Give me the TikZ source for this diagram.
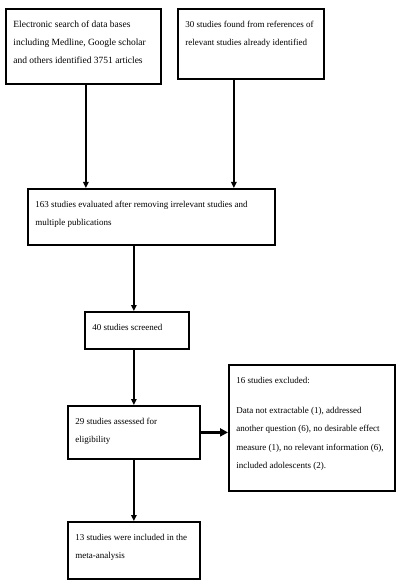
\documentclass[tikz,border=0pt]{standalone}
\usepackage{fontspec}
\setmainfont{Liberation Serif}
\usetikzlibrary{arrows.meta}
% box text: width, height, lines (top aligned)
\newcommand{\flowtext}[3]{\parbox[t][#2][t]{#1}{\raggedright\rule{0pt}{18.5pt}#3}}

\begin{document}
\begin{tikzpicture}[x=1pt, y=-1pt,
  flowbox/.style={draw, line width=1.8pt, anchor=north west, inner xsep=7.5pt, inner ysep=0pt,
    font=\fontsize{9}{18.3}\selectfont},
  flowarrow/.style={line width=1.4pt, -{Triangle[length=6pt, width=5.5pt]}},
  sidearrow/.style={line width=2.8pt, -{Triangle[length=8pt, width=8pt]}}]
  \useasboundingbox (0,0) rectangle (400,585);
  \node[flowbox, font=\fontsize{9.5}{18.3}\selectfont] (search) at (5,8)
    {\flowtext{140pt}{75pt}{\mbox{Electronic search of data bases}\\ \mbox{including Medline, Google scholar}\\ \mbox{and others identified 3751 articles}}};
  \node[flowbox] (refs) at (177,8)
    {\flowtext{131pt}{70pt}{30 studies found from references of\\ relevant studies already identified}};
  \node[flowbox] (evaluated) at (27,188)
    {\flowtext{232pt}{56pt}{163 studies evaluated after removing irrelevant studies and\\ multiple publications}};
  \node[flowbox] (screened) at (84,311)
    {\flowtext{89pt}{37pt}{40 studies screened}};
  \node[flowbox] (assessed) at (67,405)
    {\flowtext{117pt}{53pt}{29 studies assessed for\\ eligibility}};
  \node[flowbox] (excluded) at (228,364)
    {\flowtext{151pt}{126pt}{16 studies excluded:\\[11.7pt] Data not extractable (1), addressed\\ another question (6), no desirable effect\\ measure (1), no relevant information (6),\\ included adolescents (2).}};
  \node[flowbox] (included) at (67,521)
    {\flowtext{117pt}{57pt}{13 studies were included in the\\ meta-analysis}};
  % connectors
  \draw[flowarrow] ([xshift=2.5pt]search.south) -- ([xshift=2.5pt]search.south |- evaluated.north);
  \draw[flowarrow] ([xshift=-17pt]refs.south) -- ([xshift=-17pt]refs.south |- evaluated.north);
  \draw[flowarrow] (evaluated.south -| assessed) -- (screened.north -| assessed);
  \draw[flowarrow] (screened.south -| assessed) -- (assessed.north);
  \draw[sidearrow] (assessed.east) -- (assessed.east -| excluded.west);
  \draw[flowarrow] (assessed.south) -- (included.north);
\end{tikzpicture}
\end{document}
